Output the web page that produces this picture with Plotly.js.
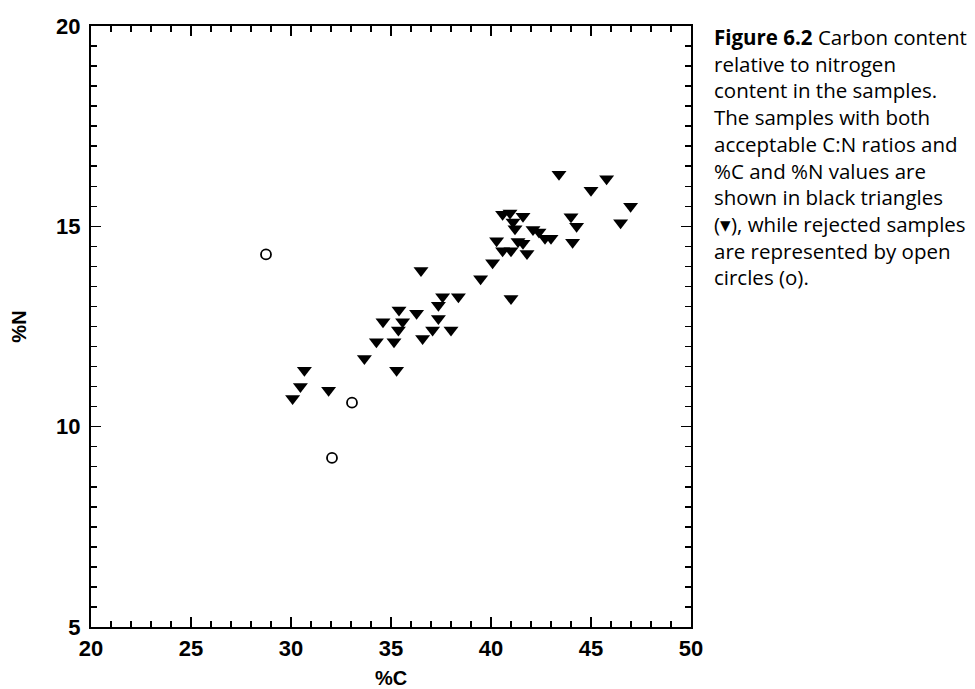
<!DOCTYPE html>
<html>
<head>
<meta charset="utf-8">
<script src="https://cdn.plot.ly/plotly-3.0.1.min.js"></script>
<style>html,body{margin:0;padding:0;background:#fff;}#chart{width:975px;height:689px;}</style>
</head>
<body>
<div id="chart"></div>
<script>
// Accepted samples (black triangles)
const acceptedC = [30.08,30.47,30.67,31.88,33.67,34.27,34.6,35.15,35.28,35.37,35.4,35.58,36.28,36.5,36.58,37.08,37.37,37.37,37.58,38.0,38.37,39.48,40.08,40.28,40.58,41.0,41.8,41.35,41.6,41.0,40.58,40.95,41.6,41.1,41.2,42.1,42.4,42.7,43.0,43.4,44.0,44.28,44.08,45.0,45.78,46.48,46.98];
const acceptedN = [10.70,11.0,11.41,10.91,11.70,12.12,12.62,12.12,11.41,12.41,12.91,12.62,12.83,13.9,12.2,12.41,12.70,13.03,13.24,12.41,13.24,13.69,14.09,14.64,14.39,14.39,14.32,14.62,14.58,13.2,15.3,15.33,15.25,15.11,14.94,14.92,14.86,14.70,14.70,16.3,15.24,15.0,14.60,15.9,16.19,15.09,15.50];
// Rejected samples (open circles)
const rejectedC = [28.75,33.05,32.05];
const rejectedN = [14.30,10.6,9.22];

const xTitle = "%C";
const yTitle = "%N";
const captionLines = [
  "<b>Figure 6.2</b> Carbon content",
  "relative to nitrogen",
  "content in the samples.",
  "The samples with both",
  "acceptable C:N ratios and",
  "%C and %N values are",
  "shown in black triangles",
  "(▾), while rejected samples",
  "are represented by open",
  "circles (o)."
];

const traces = [
  {x: acceptedC, y: acceptedN, mode: 'markers', type: 'scatter',
   marker: {symbol: 'triangle-down', size: 13, color: '#000'}, showlegend: false, cliponaxis: false},
  {x: rejectedC, y: rejectedN, mode: 'markers', type: 'scatter',
   marker: {symbol: 'circle-open', size: 10, color: '#000', line: {width: 1.8, color: '#000'}}, showlegend: false, cliponaxis: false}
];

const tickFont = {family: 'Liberation Sans, Arial, sans-serif', size: 22, color: '#000', weight: 'bold'};
const titleFont = {family: 'Liberation Sans, Arial, sans-serif', size: 20, color: '#000', weight: 'bold'};

const annotations = captionLines.map((t, i) => ({
  text: t, xref: 'paper', yref: 'paper', x: 1.035, y: 1 - (11 + i * 26.7) / 601,
  xanchor: 'left', yanchor: 'middle', showarrow: false, align: 'left',
  font: {family: 'Open Sans, Noto Sans, sans-serif', size: 20.5, color: '#000'}
}));

const layout = {
  width: 975, height: 689,
  margin: {l: 91, r: 284, t: 26, b: 62},
  paper_bgcolor: '#fff', plot_bgcolor: '#fff',
  xaxis: {
    range: [20, 50], dtick: 5, tick0: 20, ticks: 'inside', ticklen: 10, tickwidth: 1.5, tickcolor: '#000',
    showline: true, linecolor: '#000', linewidth: 2, mirror: 'ticks', showgrid: false, zeroline: false,
    tickfont: tickFont, ticklabelstandoff: 1,
    minor: {dtick: 1, ticks: 'inside', ticklen: 6, tickwidth: 1.5, tickcolor: '#000', showgrid: false},
    title: {text: xTitle, font: titleFont, standoff: 14}
  },
  yaxis: {
    range: [5, 20], dtick: 5, tick0: 5, ticks: 'inside', ticklen: 10, tickwidth: 1.5, tickcolor: '#000',
    showline: true, linecolor: '#000', linewidth: 2, mirror: 'ticks', showgrid: false, zeroline: false,
    tickfont: tickFont, ticklabelstandoff: 4,
    minor: {dtick: 0.5, ticks: 'inside', ticklen: 6, tickwidth: 1.5, tickcolor: '#000', showgrid: false},
    title: {text: yTitle, font: titleFont, standoff: 24}
  },
  annotations: annotations
};

Plotly.newPlot('chart', traces, layout, {displayModeBar: false, staticPlot: true});
</script>
</body>
</html>
